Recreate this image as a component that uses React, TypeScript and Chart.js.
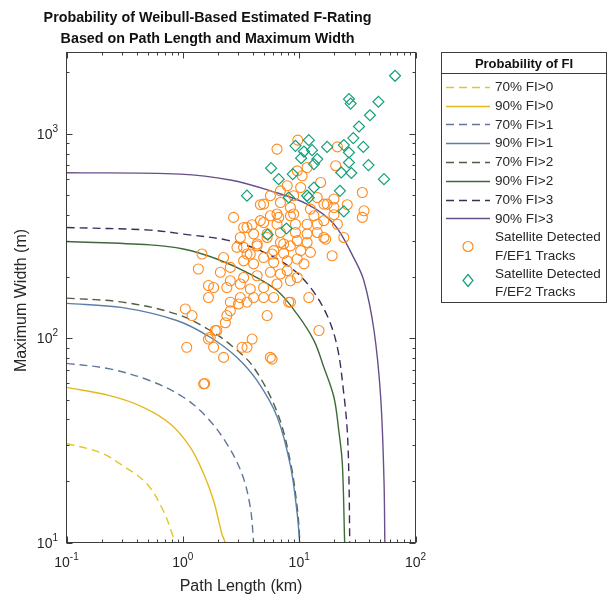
import React, { useEffect, useRef } from 'react';
import { Chart, registerables } from 'chart.js';

Chart.register(...registerables);

// ---------- data ----------
// Contour curves: path length (km) / maximum width (m)
const len70FI0 = [0.1, 0.194, 0.304, 0.49, 0.68, 0.83, 0.86];
const wid70FI0 = [30.5, 27.6, 23.8, 19.4, 14.3, 10.6, 10];

const len90FI0 = [0.1, 0.236, 0.457, 0.778, 1.16, 1.51, 1.84, 2.17, 2.32];
const wid90FI0 = [57.4, 52.3, 45.9, 38.1, 29.2, 21.7, 16.0, 11.0, 10];

const len70FI1 = [0.1, 0.236, 0.522, 1.01, 1.61, 2.39, 3.22, 3.8, 4.06];
const wid70FI1 = [75.3, 70.7, 61.9, 51.4, 41.0, 30.4, 21.7, 14.9, 10];

const len90FI1 = [0.1, 0.304, 0.887, 1.72, 2.92, 4.35, 6.46, 8.41, 9.62, 10.1];
const wid90FI1 = [148, 141, 122, 101, 80.5, 61.9, 41.3, 23.8, 13.8, 10];

const len70FI2 = [0.1, 0.304, 0.887, 1.72, 2.73, 4.06, 6.46, 8.41, 9.7, 10.15];
const wid70FI2 = [157, 150, 131, 109, 90.2, 72.0, 43.5, 24.8, 14.2, 10];

const len90FI2 = [0.1, 0.522, 1.01, 1.96, 3.8, 6.46, 9.61, 13.4, 16.3, 19.9, 21.9, 23.5, 24.6];
const wid90FI2 = [297, 286, 273, 244, 206, 171, 131, 97.2, 72.0, 51.4, 35.3, 24.3, 10];

const len70FI3 = [0.1, 0.522, 1.01, 2.39, 4.64, 8.41, 12.5, 17.4, 21.3, 24.2, 25.9, 26.8, 27.2];
const wid70FI3 = [348, 338, 323, 302, 268, 222, 177, 129, 90.2, 53.4, 35.3, 20.1, 10];

const len90FI3 = [0.1, 0.949, 2.56, 5.66, 11.7, 19.8, 29.4, 36.0, 44.0, 50.2, 53.6, 54.5];
const wid90FI3 = [645, 635, 594, 526, 453, 363, 248, 191, 109, 51.4, 20.1, 10];

// Satellite detected F/EF1 tracks
const ef1Len = [
  9.73, 6.45, 21.3, 20.6, 11.7, 9.62, 10.6, 15.3, 7.89, 6.9, 10.3, 34.9, 5.66, 8.97, 14.3, 19.9,
  4.64, 6.9, 8.41, 16.3, 25.9, 19.9, 12.5, 36.1, 2.73, 5.66, 6.67, 8.41, 13.4, 19.9, 34.9, 3.33,
  3.94, 4.95, 6.45, 9.29, 14.3, 16.3, 21.3, 3.12, 4.06, 5.3, 6.9, 9.29, 11.7, 14.3, 3.33, 4.35,
  6.9, 8.41, 11.7, 16.9, 3.8, 5.85, 7.36, 10.3, 12.5, 19.2, 4.95, 6.45, 3.56, 4.64, 8.97, 11.7,
  17.4, 24.2, 2.92, 3.56, 4.35, 5.3, 6.04, 7.36, 9.62, 16.3, 1.46, 2.24, 1.36, 2.56, 3.33, 4.06,
  4.95, 6.04, 7.89, 9.62, 11.0, 2.1, 2.56, 3.33, 4.35, 5.66, 6.9, 7.89, 1.84, 2.39, 3.12, 3.8,
  4.95, 6.45, 8.41, 9.62, 1.66, 2.56, 3.12, 4.06, 4.95, 6.04, 8.13, 12.1, 1.05, 1.2, 2.56, 3.01,
  3.56, 5.3, 2.39, 2.32, 1.96, 1.72, 1.84, 1.08, 3.23, 3.56, 3.94, 2.24, 5.66, 14.8, 1.51, 1.54,
  1.66, 1.9, 5.85, 8.41, 1.66,
];
const ef1Width = [
  931, 842, 863, 698, 684, 659, 623, 578, 557, 526, 546, 516, 498, 498, 488, 480,
  450, 461, 436, 453, 450, 436, 428, 420, 390, 397, 390, 397, 397, 402, 390, 348,
  359, 368, 361, 361, 361, 376, 361, 311, 324, 324, 329, 329, 324, 329, 278, 283,
  294, 283, 294, 305, 258, 258, 260, 268, 263, 253, 453, 405, 348, 376, 405, 361,
  453, 311, 278, 258, 289, 311, 268, 289, 300, 311, 258, 248, 218, 222, 239, 231,
  248, 235, 239, 244, 231, 210, 191, 198, 202, 210, 206, 214, 177, 177, 184, 174,
  177, 184, 191, 198, 158, 150, 158, 158, 158, 158, 150, 158, 139, 129, 136, 147,
  150, 129, 129, 119, 109, 101, 90.2, 90.2, 90.2, 90.2, 99, 80.5, 80.5, 109, 59.7, 60,
  181, 109, 79, 150, 99,
];

// Satellite detected F/EF2 tracks
const ef2Len = [
  66.7, 26.8, 27.7, 48.0, 40.6, 32.7, 29.2, 12.1, 9.29, 17.4, 24.2, 35.6, 12.9, 11.0, 26.8, 10.4,
  14.3, 13.4, 26.8, 39.4, 5.74, 23.0, 28.1, 8.81, 6.67, 53.6, 13.4, 22.4, 3.56, 8.13, 11.7, 12.1,
  24.2, 7.78, 5.36,
];
const ef2Width = [
  1923, 1479, 1406, 1435, 1233, 1086, 953, 931, 873, 863, 881, 863, 832, 819, 810, 760,
  752, 711, 724, 703, 679, 647, 643, 635, 600, 600, 546, 526, 498, 488, 498, 487,
  417, 344, 321,
];

const xTickValues = [0.1, 1, 10, 100];
const xTickExps = ['-1', '0', '1', '2'];
const yTickValues = [10, 100, 1000];
const yTickExps = ['1', '2', '3'];
const xMin = 0.1, xMax = 100, yMin = 10, yMax = 2500;

const titleLines = [
  'Probability of Weibull-Based Estimated F-Rating',
  'Based on Path Length and Maximum Width',
];
const xTitle = 'Path Length (km)';
const yTitle = 'Maximum Width (m)';
const legendTitle = 'Probability of FI';

const curveLabels = ['70% FI>0', '90% FI>0', '70% FI>1', '90% FI>1', '70% FI>2', '90% FI>2', '70% FI>3', '90% FI>3'];
const curveLens = [len70FI0, len90FI0, len70FI1, len90FI1, len70FI2, len90FI2, len70FI3, len90FI3];
const curveWids = [wid70FI0, wid90FI0, wid70FI1, wid90FI1, wid70FI2, wid90FI2, wid70FI3, wid90FI3];
const curveColors = ['#e2c62a', '#e3b91e', '#60769c', '#5b7ea8', '#4f5e44', '#3e6a38', '#3b2f58', '#67508a'];
const curveDashed = [true, false, true, false, true, false, true, false];

const ef1Label = ['Satellite Detected', 'F/EF1 Tracks'];
const ef2Label = ['Satellite Detected', 'F/EF2 Tracks'];
const ef1Color = '#ff8a1c';
const ef2Color = '#14a07a';

const FONT = "'Liberation Sans', Arial, Helvetica, sans-serif";
const TEXT = '#262626';

function drawPow(ctx: CanvasRenderingContext2D, exp: string, x: number, baseline: number, align: 'center' | 'right') {
  ctx.font = `14px ${FONT}`;
  const w1 = ctx.measureText('10').width;
  ctx.font = `10px ${FONT}`;
  const w2 = ctx.measureText(exp).width;
  const total = w1 + w2;
  const start = align === 'center' ? x - total / 2 : x - total;
  ctx.textAlign = 'left';
  ctx.textBaseline = 'alphabetic';
  ctx.font = `14px ${FONT}`;
  ctx.fillText('10', start, baseline);
  ctx.font = `10px ${FONT}`;
  ctx.fillText(exp, start + w1, baseline - 7);
}

function minorValues(min: number, max: number): number[] {
  const out: number[] = [];
  for (let d = Math.floor(Math.log10(min)); d <= Math.ceil(Math.log10(max)); d++) {
    for (let m = 1; m <= 9; m++) {
      const v = m * Math.pow(10, d);
      if (v >= min * 0.999 && v <= max * 1.001) out.push(v);
    }
  }
  return out;
}

const decorPlugin = {
  id: 'decor',
  afterDraw(chart: any) {
    const { ctx, chartArea: a, scales } = chart;
    const xs = scales.x;
    const ys = scales.y;
    ctx.save();

    // box
    ctx.strokeStyle = '#3c3c3c';
    ctx.lineWidth = 1;
    ctx.setLineDash([]);
    ctx.strokeRect(a.left, a.top, a.right - a.left, a.bottom - a.top);

    // inward ticks
    ctx.beginPath();
    for (const v of minorValues(xMin, xMax)) {
      const major = Math.abs(Math.log10(v) - Math.round(Math.log10(v))) < 1e-6;
      const len = major ? 6 : 3;
      const px = Math.round(xs.getPixelForValue(v)) + 0.5;
      ctx.moveTo(px, a.bottom); ctx.lineTo(px, a.bottom - len);
      ctx.moveTo(px, a.top); ctx.lineTo(px, a.top + len);
    }
    for (const v of minorValues(yMin, yMax)) {
      const major = Math.abs(Math.log10(v) - Math.round(Math.log10(v))) < 1e-6;
      const len = major ? 6 : 3;
      const py = Math.round(ys.getPixelForValue(v)) + 0.5;
      ctx.moveTo(a.left, py); ctx.lineTo(a.left + len, py);
      ctx.moveTo(a.right, py); ctx.lineTo(a.right - len, py);
    }
    ctx.stroke();

    // tick labels
    ctx.fillStyle = TEXT;
    xTickValues.forEach((v, i) => {
      drawPow(ctx, xTickExps[i], xs.getPixelForValue(v), 567, 'center');
    });
    yTickValues.forEach((v, i) => {
      drawPow(ctx, yTickExps[i], 58, ys.getPixelForValue(v) + 5, 'right');
    });

    // axis titles
    ctx.font = `16px ${FONT}`;
    ctx.textAlign = 'center';
    ctx.textBaseline = 'middle';
    ctx.fillText(xTitle, (a.left + a.right) / 2, 587);
    ctx.save();
    ctx.translate(22, (a.top + a.bottom) / 2 + 3);
    ctx.rotate(-Math.PI / 2);
    ctx.fillText(yTitle, 0, 0);
    ctx.restore();

    // chart title
    ctx.font = `bold 14.3px ${FONT}`;
    ctx.fillStyle = '#111';
    ctx.fillText(titleLines[0], 207.5, 18.5);
    ctx.fillText(titleLines[1], 207.5, 39.5);

    // legend
    const L = 441.5, T = 52.5, R = 606.5, B = 302.5;
    ctx.fillStyle = '#fff';
    ctx.fillRect(L, T, R - L, B - T);
    ctx.strokeStyle = '#3c3c3c';
    ctx.lineWidth = 1;
    ctx.strokeRect(L, T, R - L, B - T);
    ctx.beginPath();
    ctx.moveTo(L, 73.5); ctx.lineTo(R, 73.5);
    ctx.stroke();
    ctx.fillStyle = '#111';
    ctx.font = `bold 13px ${FONT}`;
    ctx.textAlign = 'center';
    ctx.textBaseline = 'middle';
    ctx.fillText(legendTitle, (L + R) / 2, 64);

    ctx.font = `13.5px ${FONT}`;
    ctx.textAlign = 'left';
    const rowY = [86.7, 105.5, 124.3, 143.1, 162, 180.8, 199.6, 218.4];
    curveLabels.forEach((lab, i) => {
      const y = Math.round(rowY[i]) + 0.5;
      ctx.strokeStyle = curveColors[i];
      ctx.lineWidth = 1.4;
      ctx.setLineDash(curveDashed[i] ? [8, 5] : []);
      ctx.beginPath();
      ctx.moveTo(446, y); ctx.lineTo(490, y);
      ctx.stroke();
      ctx.setLineDash([]);
      ctx.fillStyle = TEXT;
      ctx.fillText(lab, 495, rowY[i] + 0.5);
    });
    // scatter entries
    ctx.lineWidth = 1.2;
    ctx.strokeStyle = ef1Color;
    ctx.beginPath();
    ctx.arc(468, 246.5, 5, 0, Math.PI * 2);
    ctx.stroke();
    ctx.fillStyle = TEXT;
    ctx.fillText(ef1Label[0], 495, 237.7);
    ctx.fillText(ef1Label[1], 495, 256);
    ctx.strokeStyle = ef2Color;
    ctx.beginPath();
    ctx.moveTo(468, 274.5); ctx.lineTo(473, 280.5); ctx.lineTo(468, 286.5); ctx.lineTo(463, 280.5); ctx.closePath();
    ctx.stroke();
    ctx.fillText(ef2Label[0], 495, 274.3);
    ctx.fillText(ef2Label[1], 495, 292.5);

    ctx.restore();
  },
};

export default function App() {
  const ref = useRef<HTMLCanvasElement | null>(null);

  useEffect(() => {
    if (!ref.current) return;
    const lineSets = curveLabels.map((lab, i) => ({
      type: 'line' as const,
      label: lab,
      data: curveLens[i].map((x, j) => ({ x, y: curveWids[i][j] })),
      borderColor: curveColors[i],
      backgroundColor: curveColors[i],
      borderWidth: 1.4,
      borderDash: curveDashed[i] ? [8, 5] : [],
      pointRadius: 0,
      fill: false,
      tension: 0.35,
      order: 2,
    }));
    const chart = new Chart(ref.current, {
      type: 'scatter',
      data: {
        datasets: [
          ...lineSets,
          {
            label: 'Satellite Detected F/EF1 Tracks',
            data: ef1Len.map((x, j) => ({ x, y: ef1Width[j] })),
            pointStyle: 'circle',
            pointRadius: 5,
            pointBorderWidth: 1.1,
            borderColor: ef1Color,
            backgroundColor: 'rgba(0,0,0,0)',
            showLine: false,
            order: 1,
          } as any,
          {
            label: 'Satellite Detected F/EF2 Tracks',
            data: ef2Len.map((x, j) => ({ x, y: ef2Width[j] })),
            pointStyle: 'rectRot',
            pointRadius: 5.5,
            pointBorderWidth: 1.2,
            borderColor: ef2Color,
            backgroundColor: 'rgba(0,0,0,0)',
            showLine: false,
            order: 0,
          } as any,
        ],
      },
      options: {
        responsive: false,
        animation: false,
        devicePixelRatio: 1,
        layout: { padding: { left: 0, right: 192.5, top: 52.5, bottom: 0 } },
        plugins: {
          legend: { display: false },
          title: { display: false },
          tooltip: { enabled: false },
        },
        scales: {
          x: {
            type: 'logarithmic',
            min: xMin,
            max: xMax,
            ticks: { display: false },
            grid: { display: false },
            border: { display: false },
            afterFit: (s: any) => { s.height = 52.5; },
          },
          y: {
            type: 'logarithmic',
            min: yMin,
            max: yMax,
            ticks: { display: false },
            grid: { display: false },
            border: { display: false },
            afterFit: (s: any) => { s.width = 66.5; },
          },
        },
      } as any,
      plugins: [decorPlugin],
    });
    return () => chart.destroy();
  }, []);

  return (
    <div style={{ position: 'fixed', left: 0, top: 0, width: 608, height: 595, background: '#fff' }}>
      <canvas ref={ref} width={608} height={595} style={{ display: 'block', width: 608, height: 595 }} />
    </div>
  );
}
